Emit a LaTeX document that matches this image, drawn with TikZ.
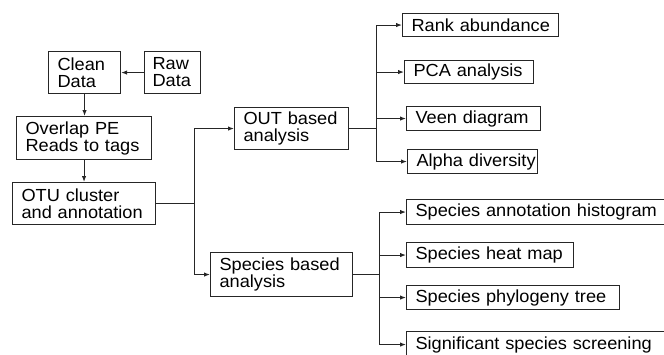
\documentclass[tikz,border=0pt]{standalone}
\usepackage{fontspec}
\setmainfont{Liberation Sans}[FakeStretch=1.04]
\usetikzlibrary{arrows.meta}
\hyphenpenalty=10000
\exhyphenpenalty=10000
\begin{document}
\begin{tikzpicture}[x=1pt,y=-1pt,
  box/.style={draw=black!85, line width=1.1pt, anchor=north west, inner xsep=9pt, inner ysep=0pt, align=left, font=\fontsize{17.5}{17}\selectfont, text=black},
  conn/.style={draw=black!85, line width=1.1pt},
  arr/.style={conn, -{Latex[length=6pt,width=4.5pt]}}]
\useasboundingbox (0,0) rectangle (664,354);
\clip (0,0) rectangle (664,354);
% left column
\node[box, minimum width=72pt, minimum height=42pt, text width=54pt] (clean) at (48,51) {Clean\\Data};
\node[box, minimum width=56pt, minimum height=42pt, text width=40pt, inner xsep=8pt] (raw) at (144,51) {Raw\\Data};
\node[box, minimum width=135pt, minimum height=43pt, text width=117pt] (overlap) at (16,116) {Overlap PE\\Reads to tags};
\node[box, minimum width=143pt, minimum height=42pt, text width=125pt] (otu) at (12,182) {OTU cluster\\and annotation};
% middle
\node[box, minimum width=114pt, minimum height=42pt, text width=96pt] (out) at (234,107) {OUT based\\analysis};
\node[box, minimum width=142pt, minimum height=44pt, text width=124pt] (species) at (210,252) {Species based\\analysis};
% right: OUT branch
\node[box, minimum width=156pt, minimum height=23pt, text width=138pt] (rank) at (402,13) {\mbox{Rank abundance}};
\node[box, minimum width=129pt, minimum height=23pt, text width=111pt] (pca) at (404,60) {\mbox{PCA analysis}};
\node[box, minimum width=134pt, minimum height=24pt, text width=116pt] (veen) at (406,106) {\mbox{Veen diagram}};
\node[box, minimum width=130pt, minimum height=24pt, text width=112pt] (alpha) at (407,149) {\mbox{Alpha diversity}};
% right: species branch
\node[box, minimum width=280pt, minimum height=25pt, text width=262pt] (hist) at (406,199) {\mbox{Species annotation histogram}};
\node[box, minimum width=167pt, minimum height=25pt, text width=149pt] (heat) at (406,242) {\mbox{Species heat map}};
\node[box, minimum width=213pt, minimum height=24pt, text width=195pt] (phylo) at (406,285) {\mbox{Species phylogeny tree}};
\node[box, minimum width=270pt, minimum height=26pt, text width=252pt] (signif) at (406,331) {\mbox{Significant species screening}};
% connectors
\draw[arr] (raw.west) -- (clean.east);
\draw[arr] (clean.south) -- (clean.south |- overlap.north);
\draw[arr] (overlap.south) -- (overlap.south |- otu.north);
\path (otu.east) ++(38,0) coordinate (s1);
\draw[conn] (otu.east) -- (s1);
\draw[arr] (s1) |- (out.west);
\draw[arr] (s1) |- (species.west);
\path (out.east) ++(27,0) coordinate (s2);
\draw[conn] (out.east) -- (s2);
\foreach \n in {rank,pca,veen,alpha} \draw[arr] (s2) |- (\n.west);
\path (species.east) ++(26,0) coordinate (s3);
\draw[conn] (species.east) -- (s3);
\foreach \n in {hist,heat,phylo,signif} \draw[arr] (s3) |- (\n.west);
\end{tikzpicture}
\end{document}
